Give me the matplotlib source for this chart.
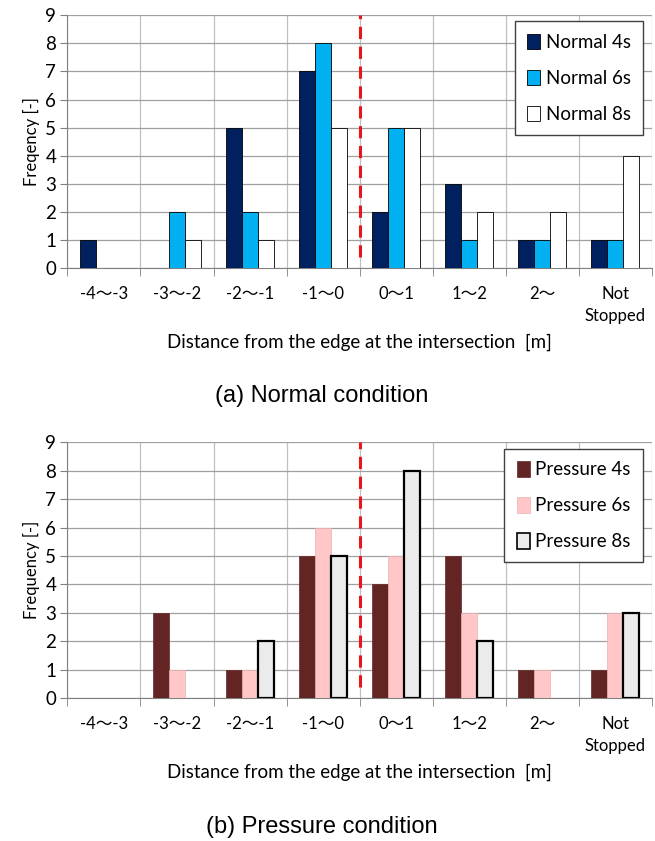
import matplotlib.pyplot as plt
from matplotlib.patches import Patch
import numpy as np

# categories and counts
cats = ['-4～-3', '-3～-2', '-2～-1', '-1～0', '0～1', '1～2', '2～', 'Not\nStopped']
normal_4s = [1, 0, 5, 7, 2, 3, 1, 1]
normal_6s = [0, 2, 2, 8, 5, 1, 1, 1]
normal_8s = [0, 1, 1, 5, 5, 2, 2, 4]
press_4s = [0, 3, 1, 5, 4, 5, 1, 1]
press_6s = [0, 1, 1, 6, 5, 3, 1, 3]
press_8s = [0, 0, 2, 5, 8, 2, 0, 3]

FAM = ['Lato', 'Noto Sans CJK JP', 'DejaVu Sans']
plt.rcParams['font.family'] = FAM


def panel(ax, series, labels, colors, edges, lws, ylab, caption):
    x = np.arange(len(cats))
    w = 0.22
    handles = []
    for k, (vals, lab, c, ec, lw) in enumerate(zip(series, labels, colors, edges, lws)):
        widths = [lw if v > 0 else 0 for v in vals]
        ax.bar(x + (k - 1) * w, vals, w, color=c, edgecolor=ec, linewidth=widths,
               zorder=3)
        handles.append(Patch(facecolor=c, edgecolor=ec, linewidth=min(lw, 1.2), label=lab))
    ax.set_xlim(-0.5, len(cats) - 0.5)
    ax.set_ylim(0, 9)
    ax.set_yticks(range(10))
    ax.tick_params(axis='y', labelsize=13.5, length=5, color='#808080', pad=3)
    ax.set_xticks(x)
    ax.set_xticklabels(cats, fontsize=12, linespacing=1.45)
    ax.set_xticks(np.arange(-0.5, len(cats)), minor=True)
    ax.tick_params(axis='x', which='major', length=0, pad=13)
    ax.tick_params(axis='x', which='minor', length=6, color='#808080')
    ax.grid(True, axis='y', color='#a0a0a0', lw=0.9, zorder=0)
    ax.grid(True, axis='x', which='minor', color='#c0c0c0', lw=0.9, zorder=0)
    for s in ['top', 'right']:
        ax.spines[s].set_visible(False)
    ax.spines['left'].set_color('#808080')
    ax.spines['bottom'].set_color('#808080')
    ax.plot([3.5, 3.5], [0.4, 9], color='#e8161b', lw=2.2, ls=(0, (4, 2.5)), zorder=4)
    ax.set_ylabel(ylab, fontsize=12, labelpad=4)
    ax.set_xlabel('Distance from the edge at the intersection  [m]', fontsize=13.5,
                  labelpad=7)
    L = ax.legend(handles=handles, loc='upper right', bbox_to_anchor=(0.985, 0.975),
                  borderaxespad=0, fontsize=13.5,
                  handlelength=0.7, handleheight=0.9, handletextpad=0.3,
                  labelspacing=1.0, borderpad=0.65, fancybox=False,
                  edgecolor='#404040', framealpha=1)
    L.get_frame().set_linewidth(1.0)
    ax.text(0.435, -0.505, caption, transform=ax.transAxes, ha='center', va='center',
            fontsize=17, family=['Liberation Sans', 'DejaVu Sans'])


fig = plt.figure(figsize=(6.55, 8.41), dpi=100)
ax1 = fig.add_axes([0.103, 0.681, 0.892, 0.301])
ax2 = fig.add_axes([0.103, 0.170, 0.892, 0.304])

panel(ax1, [normal_4s, normal_6s, normal_8s],
      ['Normal 4s', 'Normal 6s', 'Normal 8s'],
      ['#002060', '#00b0f0', '#ffffff'], ['#000000'] * 3, [0.6, 0.6, 0.6],
      'Freqency [-]', '(a) Normal condition')
panel(ax2, [press_4s, press_6s, press_8s],
      ['Pressure 4s', 'Pressure 6s', 'Pressure 8s'],
      ['#632523', '#ffc7c7', '#ebebeb'], ['#632523', '#e8b0b0', '#000000'],
      [0.5, 0.5, 1.6],
      'Frequency [-]', '(b) Pressure condition')

plt.savefig('out.png', dpi=100)
